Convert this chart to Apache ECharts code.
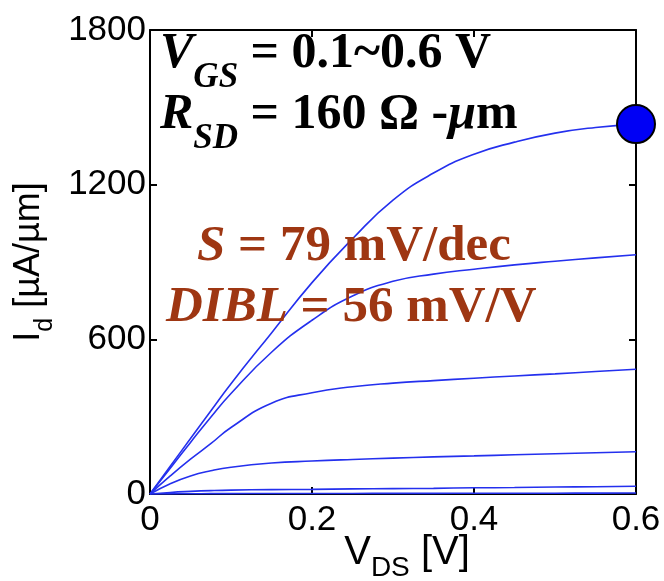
<!DOCTYPE html>
<html>
<head>
<meta charset="utf-8">
<script src="https://cdn.jsdelivr.net/npm/echarts@6/dist/echarts.min.js"></script>
<style>
  html, body { margin: 0; padding: 0; background: #fff; }
  #chart { width: 664px; height: 581px; }
</style>
</head>
<body>
<div id="chart"></div>
<script>
// V_DS sweep points [V]
const vds = [0, 0.025, 0.05, 0.075, 0.1, 0.15, 0.2, 0.25, 0.3, 0.35, 0.4, 0.45, 0.5, 0.55, 0.6]

// I_d [uA/um] per V_GS
const id06 = [0, 108, 215, 322, 428, 625, 820, 990, 1140, 1245, 1318, 1365, 1400, 1422, 1435]
const id05 = [0, 100, 200, 298, 390, 550, 674, 768, 825, 853, 872, 889, 903, 916, 928]
const id04 = [0, 70, 135, 195, 258, 352, 393, 416, 430, 440, 449, 458, 466, 475, 484]
const id03 = [0, 40, 70, 90, 104, 120, 128, 134, 139, 144, 148, 152, 156, 160, 164]
const id02 = [0, 6, 10, 13, 15, 17, 18, 20, 21, 22, 24, 25, 27, 28, 30]
const id01 = [0, 0.5, 1, 1.3, 1.5, 1.8, 2, 2.2, 2.4, 2.6, 2.8, 3, 3.2, 3.4, 3.6]

const curves = [id01, id02, id03, id04, id05, id06]
const endMarker = [[0.6, 1435]]

const lineColor = '#2430ee'
const noteColor = '#9e3612'
const sans = 'Liberation Sans, Arial, sans-serif'
const serif = 'Liberation Serif, Times New Roman, serif'

function pair(data) {
  return vds.map((v, i) => [v, data[i]])
}

const chart = echarts.init(document.getElementById('chart'))

const axisCommon = {
  type: 'value',
  axisLine: { show: true, onZero: false, lineStyle: { color: '#000', width: 2 } },
  axisTick: { show: true, inside: true, length: 7, lineStyle: { color: '#000', width: 2 } },
  splitLine: { show: false },
}

const series = curves.map((c) => ({
  type: 'line',
  data: pair(c),
  smooth: 0.5,
  showSymbol: false,
  lineStyle: { color: lineColor, width: 1.6 },
  z: 3,
}))

series.push({
  type: 'scatter',
  data: endMarker,
  symbolSize: 38,
  clip: false,
  itemStyle: { color: '#0000f5', opacity: 1, borderColor: '#000', borderWidth: 2 },
  z: 5,
})

// big annotation text, subscript pushed down with top padding
const bigMain = { fontFamily: serif, fontWeight: 'bold', fontSize: 50, verticalAlign: 'top', fill: '#000' }
const bigIt = Object.assign({}, bigMain, { fontStyle: 'italic' })
const bigSub = { fontFamily: serif, fontWeight: 'bold', fontStyle: 'italic', fontSize: 35, verticalAlign: 'top', padding: [31, 0, 0, 0], fill: '#000' }

const noteIt = { fontFamily: serif, fontWeight: 'bold', fontStyle: 'italic', fontSize: 51, fill: noteColor }
const noteMain = { fontFamily: serif, fontWeight: 'bold', fontSize: 51, fill: noteColor }

const option = {
  animation: false,
  backgroundColor: '#fff',
  grid: { left: 150, right: 28, top: 30, bottom: 87, containLabel: false, outerBoundsMode: 'none' },
  xAxis: [
    Object.assign({}, axisCommon, {
      position: 'bottom',
      min: 0, max: 0.6, interval: 0.2,
      axisLabel: {
        color: '#000', fontFamily: sans, fontSize: 35, margin: 9,
        formatter: (v) => v === 0 ? '0' : v.toFixed(1),
      },
      name: '{a|V}{s|DS}{a| [V]}',
      nameLocation: 'middle',
      nameGap: 39,
      nameMoveOverlap: false,
      nameTextStyle: {
        padding: [0, 0, 0, 28],
        rich: {
          a: { fontFamily: sans, fontSize: 40, verticalAlign: 'top', color: '#000' },
          s: { fontFamily: sans, fontSize: 28, verticalAlign: 'top', padding: [21, 0, 0, 0], color: '#000' },
        },
      },
    }),
    Object.assign({}, axisCommon, {
      position: 'top',
      min: 0, max: 0.6, interval: 0.2,
      axisLabel: { show: false },
    }),
  ],
  yAxis: [
    Object.assign({}, axisCommon, {
      position: 'left',
      min: 0, max: 1800, interval: 600,
      axisLabel: { color: '#000', fontFamily: sans, fontSize: 35, margin: 4, formatter: (v) => String(v) },
      name: '{a|I}{s|d}{a| [µA/µm]}',
      nameLocation: 'middle',
      nameGap: 92,
      nameRotate: 90,
      nameTextStyle: {
        rich: {
          a: { fontFamily: sans, fontSize: 36, verticalAlign: 'top', color: '#000' },
          s: { fontFamily: sans, fontSize: 25, verticalAlign: 'top', padding: [21, 0, 0, 0], color: '#000' },
        },
      },
    }),
    Object.assign({}, axisCommon, {
      position: 'right',
      min: 0, max: 1800, interval: 600,
      axisLabel: { show: false },
    }),
  ],
  graphic: [
    {
      type: 'text', left: 160, top: 29, z: 10,
      style: {
        text: '{i|V}{s|GS}{n| = 0.1~0.6 V}',
        rich: { i: bigIt, n: bigMain, s: bigSub },
      },
    },
    {
      type: 'text', left: 160, top: 90, z: 10,
      style: {
        text: '{i|R}{s|SD}{n| = 160 Ω -}{i|μ}{n|m}',
        rich: { i: bigIt, n: bigMain, s: bigSub },
      },
    },
    {
      type: 'text', left: 197, top: 221, z: 10,
      style: {
        text: '{i|S}{n| = 79 mV/dec}',
        rich: { i: noteIt, n: noteMain },
      },
    },
    {
      type: 'text', left: 166, top: 282, z: 10,
      style: {
        text: '{i|DIBL}{n| = 56 mV/V}',
        rich: { i: noteIt, n: noteMain },
      },
    },
  ],
  series: series,
}

chart.setOption(option)
</script>
</body>
</html>
